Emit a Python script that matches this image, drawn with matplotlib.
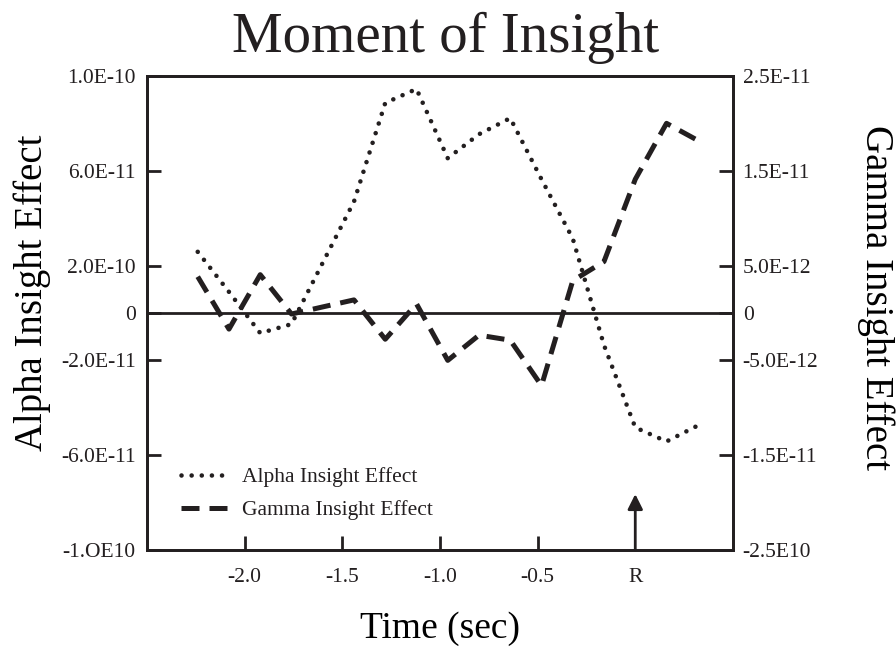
import matplotlib
matplotlib.use("Agg")
import matplotlib.pyplot as plt

# time grid (sec), R = response at 0
time = [-2.24, -2.08, -1.92, -1.76, -1.60, -1.44, -1.28, -1.12, -0.96,
        -0.80, -0.64, -0.48, -0.32, -0.16, 0.0, 0.16, 0.32]

# alpha insight effect (left axis)
alpha = [2.58e-11, 0.89e-11, -0.85e-11, -0.47e-11, 2.12e-11, 4.70e-11,
         8.86e-11, 9.45e-11, 6.53e-11, 7.54e-11, 8.22e-11, 5.64e-11,
         3.14e-11, -1.36e-11, -4.83e-11, -5.42e-11, -4.75e-11]

# gamma insight effect (right axis)
gamma = [3.83e-12, -1.70e-12, 4.04e-12, -0.11e-12, 0.64e-12, 1.38e-12,
         -2.77e-12, 0.96e-12, -5.0e-12, -2.34e-12, -2.87e-12, -7.66e-12,
         3.40e-12, 5.43e-12, 14.1e-12, 20.0e-12, 18.2e-12]

x_ticks = [-2.0, -1.5, -1.0, -0.5, 0.0]
x_labels = ["-2.0", "-1.5", "-1.0", "-0.5", "R"]

left_ticks = [1e-10, 6e-11, 2e-11, 0, -2e-11, -6e-11, -1e-10]
left_labels = ["1.0E-10", "6.0E-11", "2.0E-10", "0", "-2.0E-11", "-6.0E-11", "-1.OE10"]
right_ticks = [2.5e-11, 1.5e-11, 5e-12, 0, -5e-12, -1.5e-11, -2.5e-11]
right_labels = ["2.5E-11", "1.5E-11", "5.0E-12", "0", "-5.0E-12", "-1.5E-11", "-2.5E10"]

ink = "#231f20"
plt.rcParams["font.family"] = ["Liberation Serif", "DejaVu Serif"]
plt.rcParams["text.color"] = ink

fig = plt.figure(figsize=(8.96, 6.49), dpi=100)
ax = fig.add_axes([0.164, 0.1525, 0.654, 0.7305])
ax2 = ax.twinx()

a_line, = ax.plot(time, alpha, color=ink, lw=3.3, linestyle=(0, (0.01, 2.2)),
                  dash_capstyle="round", label="Alpha Insight Effect")
g_line, = ax2.plot(time, gamma, color=ink, lw=3.6, linestyle=(0, (3.6, 2.0)),
                   dash_capstyle="butt", label="Gamma Insight Effect")

ax.axhline(0, color=ink, lw=2)

ax.set_xlim(-2.5, 0.5)
ax.set_ylim(-1e-10, 1e-10)
ax2.set_ylim(-2.5e-11, 2.5e-11)

ax.set_xticks(x_ticks)
ax.set_xticklabels(x_labels)
ax.set_yticks(left_ticks)
ax.set_yticklabels(left_labels)
ax2.set_yticks(right_ticks)
ax2.set_yticklabels(right_labels)

for a in (ax, ax2):
    for s in a.spines.values():
        s.set_linewidth(2)
        s.set_color(ink)
ax.tick_params(axis="both", direction="in", length=10, width=2, color=ink,
               labelsize=15.5, labelcolor=ink)
ax.tick_params(axis="x", pad=13)
ax.tick_params(axis="y", pad=8)
ax2.tick_params(axis="y", direction="in", length=10, width=2, color=ink,
                labelsize=15.5, labelcolor=ink, pad=7)
ax.xaxis.get_major_ticks()[-1].tick1line.set_visible(False)

# response marker
ax.annotate("", xy=(0, 0.118), xycoords=("data", "axes fraction"),
            xytext=(0, 0.0), textcoords=("data", "axes fraction"),
            arrowprops=dict(arrowstyle="-|>,head_length=0.9,head_width=0.45",
                            color=ink, lw=2, shrinkA=0, shrinkB=0))

fig.text(0.497, 0.942, "Moment of Insight", ha="center", va="center", fontsize=41)
ax.set_xlabel("Time (sec)", fontsize=27)
ax.xaxis.set_label_coords(0.5, -0.13)
ax.set_ylabel("Alpha Insight Effect", fontsize=28)
ax.yaxis.set_label_coords(-0.163, 0.543)
ax2.set_ylabel("Gamma Insight Effect", fontsize=28, rotation=270, va="center")
ax2.yaxis.set_label_coords(1.244, 0.533)

ax.legend([a_line, g_line], ["Alpha Insight Effect", "Gamma Insight Effect"],
          loc="lower left", bbox_to_anchor=(0.025, 0.022), frameon=False,
          fontsize=15.5, handlelength=2.2, handletextpad=0.65, labelspacing=0.6)

fig.savefig("out.png", dpi=100)
